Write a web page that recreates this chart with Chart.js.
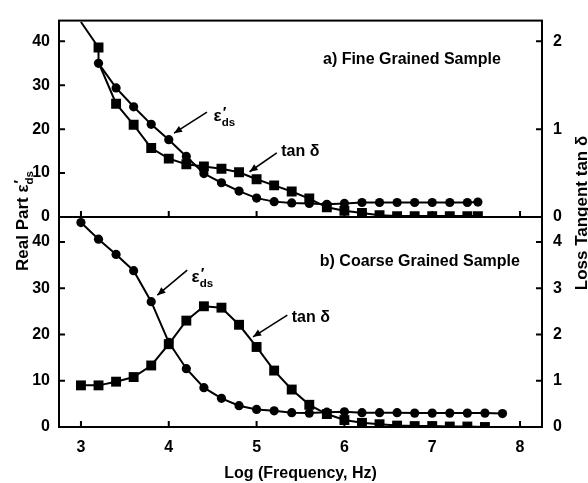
<!DOCTYPE html>
<html><head><meta charset="utf-8">
<script src="https://cdn.jsdelivr.net/npm/chart.js@4/dist/chart.umd.min.js"></script>
<style>
html,body{margin:0;padding:0;background:#fff;}
#wrap{position:relative;width:588px;height:483px;background:#fff;}
canvas{position:absolute;left:0;top:0;}
</style></head><body>
<div id="wrap"><canvas id="cTop" width="588" height="483"></canvas><canvas id="cBot" width="588" height="483"></canvas></div>
<script>
// ---------- data ----------
// a) Fine grained sample
const topEpsLogF = [3.2,3.4,3.6,3.8,4.0,4.2,4.4,4.6,4.8,5.0,5.2,5.4,5.6,5.8,6.0,6.2,6.4,6.6,6.8,7.0,7.2,7.4,7.52];
const topEps     = [35.0,29.4,25.1,21.1,17.6,13.8,9.9,7.8,5.9,4.3,3.5,3.2,3.1,2.9,3.1,3.3,3.3,3.3,3.3,3.3,3.3,3.3,3.4];
const topTanLogF = [3.0,3.2,3.2,3.4,3.6,3.8,4.0,4.2,4.4,4.6,4.8,5.0,5.2,5.4,5.6,5.8,6.0,6.2,6.4,6.6,6.8,7.0,7.2,7.4,7.52];
const topTan     = [2.22,1.93,1.76,1.29,1.05,0.785,0.665,0.60,0.575,0.55,0.51,0.43,0.36,0.29,0.21,0.11,0.07,0.045,0.02,0.01,0.01,0.01,0.01,0.01,0.01];
// b) Coarse grained sample
const botEpsLogF = [3.0,3.2,3.4,3.6,3.8,4.0,4.2,4.4,4.6,4.8,5.0,5.2,5.4,5.6,5.8,6.0,6.2,6.4,6.6,6.8,7.0,7.2,7.4,7.6,7.8];
const botEps     = [44.2,40.6,37.3,33.8,27.1,18.3,12.6,8.5,6.2,4.6,3.8,3.5,3.1,3.0,3.2,3.3,3.1,3.1,3.1,3.0,3.0,3.0,3.0,3.0,2.9];
const botTanLogF = [3.0,3.2,3.4,3.6,3.8,4.0,4.2,4.4,4.6,4.8,5.0,5.2,5.4,5.6,5.8,6.0,6.2,6.4,6.6,6.8,7.0,7.2,7.4,7.6];
const botTan     = [0.90,0.90,0.98,1.08,1.33,1.79,2.30,2.61,2.58,2.21,1.73,1.22,0.81,0.48,0.28,0.15,0.09,0.06,0.03,0.02,0.02,0.01,0.01,0.0];
// tick labels
const logFTicks   = [3,4,5,6,7,8];
const epsTicks    = [0,10,20,30,40];
const topTanTicks = [0,1,2];
const botTanTicks = [0,1,2,3,4];

// ---------- styling ----------
const TEXT = '"Liberation Sans", Arial, sans-serif';
const TICKFONT = {family: '"Liberation Sans",sans-serif', size: 16, weight: 'bold'};

function epsParts(s){ return [{t:'\u03B5', size:s}, {sup:'\u2032', sub:'ds', size:s*0.68}]; }
function txt(t, s){ return [{t:t, size:s}]; }

function partWidth(ctx, p){
  if (p.t !== undefined){ ctx.font = 'bold ' + p.size + 'px ' + TEXT; return ctx.measureText(p.t).width; }
  ctx.font = 'bold ' + p.size + 'px ' + TEXT;
  const a = ctx.measureText(p.sub).width;
  ctx.font = 'bold ' + (p.size*1.3) + 'px ' + TEXT;
  return Math.max(ctx.measureText(p.sup).width, a);
}
function drawRich(ctx, parts, x, y, align){
  let total = 0; parts.forEach(p => total += partWidth(ctx, p));
  let cx = align === 'center' ? x - total/2 : (align === 'right' ? x - total : x);
  ctx.textAlign = 'left'; ctx.textBaseline = 'alphabetic';
  let lastSize = 16;
  parts.forEach(p => {
    const w = partWidth(ctx, p);
    if (p.t !== undefined){ ctx.font = 'bold ' + p.size + 'px ' + TEXT; ctx.fillText(p.t, cx, y); lastSize = p.size; }
    else {
      ctx.font = 'bold ' + (p.size*1.3) + 'px ' + TEXT;
      ctx.fillText(p.sup, cx + 1, y - lastSize*0.22);
      ctx.font = 'bold ' + p.size + 'px ' + TEXT;
      ctx.fillText(p.sub, cx, y + lastSize*0.3);
    }
    cx += w;
  });
}
function arrow(ctx, x1, y1, x2, y2){
  ctx.lineWidth = 1.6;
  ctx.beginPath(); ctx.moveTo(x1, y1); ctx.lineTo(x2, y2); ctx.stroke();
  const ang = Math.atan2(y2 - y1, x2 - x1), L = 8, W = 3.5;
  ctx.beginPath();
  ctx.moveTo(x2, y2);
  ctx.lineTo(x2 - L*Math.cos(ang) + W*Math.sin(ang), y2 - L*Math.sin(ang) - W*Math.cos(ang));
  ctx.lineTo(x2 - L*Math.cos(ang) - W*Math.sin(ang), y2 - L*Math.sin(ang) + W*Math.cos(ang));
  ctx.closePath(); ctx.fill();
}

const decor = {
  id: 'decor',
  afterDraw(chart, args, o){
    const {ctx, chartArea: a, scales} = chart;
    ctx.save();
    ctx.strokeStyle = '#000'; ctx.fillStyle = '#000';
    ctx.lineWidth = 2;
    ctx.strokeRect(a.left, a.top, a.right - a.left, a.bottom - a.top);
    const T = 6;
    ctx.beginPath();
    scales.yL.ticks.forEach(t => { const y = scales.yL.getPixelForValue(t.value); ctx.moveTo(a.left, y); ctx.lineTo(a.left + T, y); });
    scales.yR.ticks.forEach(t => { const y = scales.yR.getPixelForValue(t.value); ctx.moveTo(a.right, y); ctx.lineTo(a.right - T, y); });
    scales.x.ticks.forEach(t => { const x = scales.x.getPixelForValue(t.value); ctx.moveTo(x, a.bottom); ctx.lineTo(x, a.bottom - T); });
    ctx.stroke();
    (o.labels || []).forEach(l => {
      drawRich(ctx, l.parts, scales.x.getPixelForValue(l.x), scales.yL.getPixelForValue(l.y), l.align || 'left');
    });
    (o.arrows || []).forEach(r => {
      arrow(ctx, scales.x.getPixelForValue(r[0]), scales.yL.getPixelForValue(r[1]),
                 scales.x.getPixelForValue(r[2]), scales.yL.getPixelForValue(r[3]));
    });
    if (o.titles){
      ctx.save(); ctx.translate(28, 221); ctx.rotate(-Math.PI/2);
      drawRich(ctx, [{t:'Real Part ', size:17}].concat(epsParts(17)), 0, 0, 'center');
      ctx.restore();
      ctx.save(); ctx.translate(587, 213); ctx.rotate(-Math.PI/2);
      drawRich(ctx, txt('Loss Tangent tan \u03B4', 17), 0, 0, 'center');
      ctx.restore();
      drawRich(ctx, txt('Log (Frequency, Hz)', 16), (a.left + a.right)/2, 478, 'center');
    }
    ctx.restore();
  }
};

function setTicks(arr){ return s => { s.ticks = arr.map(v => ({value: v})); }; }
function lineDs(xs, ys, axis, style, radius){
  return {
    data: xs.map((x, i) => ({x: x, y: ys[i]})),
    yAxisID: axis, borderColor: '#000', borderWidth: 2, tension: 0,
    pointStyle: style, pointRadius: radius, pointBackgroundColor: '#000',
    pointBorderColor: '#000', pointBorderWidth: 0, fill: false
  };
}

function makeChart(id, cfg){
  return new Chart(document.getElementById(id), {
    type: 'line',
    data: {datasets: cfg.datasets},
    options: {
      responsive: false, animation: false, events: [],
      layout: {padding: cfg.padding},
      plugins: {legend: {display: false}, tooltip: {enabled: false}, decor: cfg.decor},
      scales: {
        x: {type: 'linear', position: 'bottom', min: 2.75, max: 8.25,
            afterBuildTicks: setTicks(logFTicks), afterFit: s => { s.height = cfg.xHeight; },
            grid: {display: false, drawTicks: false}, border: {display: false},
            ticks: {display: cfg.xLabels, padding: 11, color: '#000', font: TICKFONT}},
        yL: {type: 'linear', position: 'left', min: 0, max: cfg.yMax,
            afterBuildTicks: setTicks(epsTicks), afterFit: s => { s.width = 59; },
            grid: {display: false, drawTicks: false}, border: {display: false},
            ticks: {padding: 9, color: '#000', font: TICKFONT}},
        yR: {type: 'linear', position: 'right', min: 0, max: cfg.yRMax,
            afterBuildTicks: setTicks(cfg.rTicks), afterFit: s => { s.width = 46; },
            grid: {display: false, drawTicks: false}, border: {display: false},
            ticks: {padding: 11, color: '#000', font: TICKFONT}}
      }
    },
    plugins: [decor]
  });
}

// top panel
const tanTopDs = lineDs(topTanLogF, topTan, 'yR', 'rect', 7);
tanTopDs.pointRadius = c => (c.dataIndex === 0 || c.dataIndex === 2) ? 0 : 7;
makeChart('cTop', {
  padding: {top: 9, bottom: 266, left: 0, right: 0},
  xHeight: 0, xLabels: false, yMax: 44.73, yRMax: 44.73/20, rTicks: topTanTicks,
  datasets: [lineDs(topEpsLogF, topEps, 'yL', 'circle', 4.6), tanTopDs],
  decor: {
    labels: [
      {parts: epsParts(17), x: 4.51, y: 21.9},
      {parts: txt('tan \u03B4', 16), x: 5.28, y: 14.0},
      {parts: txt('a) Fine Grained Sample', 16), x: 5.756, y: 34.8}
    ],
    arrows: [[4.435, 23.9, 4.06, 19.1], [5.23, 14.6, 4.92, 10.3]]
  }
});

// bottom panel
makeChart('cBot', {
  padding: {top: 217, bottom: 16, left: 0, right: 0},
  xHeight: 40, xLabels: true, yMax: 45.4, yRMax: 4.54, rTicks: botTanTicks,
  datasets: [lineDs(botEpsLogF, botEps, 'yL', 'circle', 4.6), lineDs(botTanLogF, botTan, 'yR', 'rect', 7)],
  decor: {
    labels: [
      {parts: epsParts(17), x: 4.26, y: 31.4},
      {parts: txt('tan \u03B4', 16), x: 5.40, y: 22.7},
      {parts: txt('b) Coarse Grained Sample', 16), x: 5.72, y: 34.8}
    ],
    arrows: [[4.21, 33.9, 3.87, 28.5], [5.35, 24.2, 4.96, 19.5]],
    titles: true
  }
});
</script>
</body></html>
